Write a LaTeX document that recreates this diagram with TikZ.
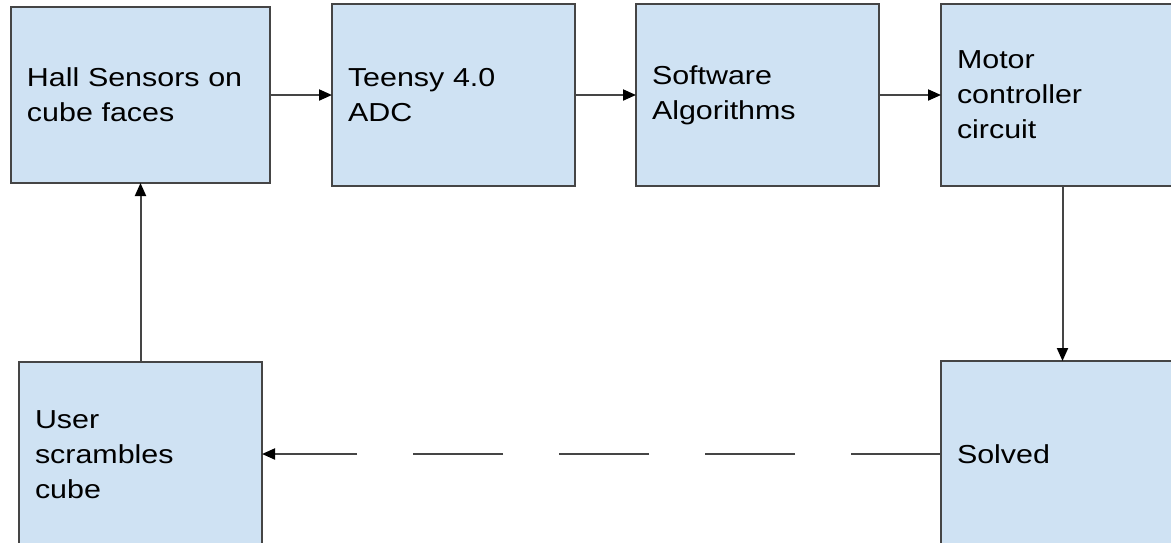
\documentclass[tikz,border=0pt]{standalone}
\usepackage{fontspec}
\newfontfamily\boxfont{Liberation Sans}[FakeStretch=1.17]
\usetikzlibrary{positioning}
\usetikzlibrary{arrows.meta}
\definecolor{boxblue}{HTML}{CFE2F3}
\definecolor{lineg}{HTML}{454545}

\begin{document}
\begin{tikzpicture}[x=1pt,y=-1pt,every node/.style={outer sep=0pt},
 block/.style={draw=lineg,line width=2pt,fill=boxblue,minimum width=243pt,
 minimum height=182pt,text width=211pt,inner xsep=16pt,align=left,
 font=\boxfont\fontsize{26}{35}\selectfont},
 link/.style={draw=lineg,line width=2pt,
 -{Triangle[length=13pt,width=11pt,color=black]}}]

  \useasboundingbox (0,0) rectangle (1171,542);
  \clip (0,0) rectangle (1171,542);

  \node[block,minimum width=259pt,minimum height=176pt,text width=227pt] (h1) at (140.5,95) {Hall Sensors on\\cube faces};
  \node[block,right=62pt of h1] (t1) {Teensy 4.0\\ADC};
  \node[block,right=61pt of t1] (a1) {Software\\Algorithms};
  \node[block,right=62pt of a1] (m1) {Motor\\controller\\circuit};
  \node[block,below=175pt of m1,minimum height=186pt] (s1) {Solved};
  \node[block,below=179pt of h1,minimum height=186pt] (u1) {User\\scrambles\\cube};

  \draw[link] (h1.east) -- (h1.east-|t1.west);
  \draw[link] (t1.east) -- (t1.east-|a1.west);
  \draw[link] (a1.east) -- (a1.east-|m1.west);
  \draw[link] (m1) -- (s1);
  \draw[link,dash pattern=on 90pt off 56pt] (s1.west) -- (s1.west-|u1.east);
  \draw[link] (u1) -- (h1);

\end{tikzpicture}
\end{document}
